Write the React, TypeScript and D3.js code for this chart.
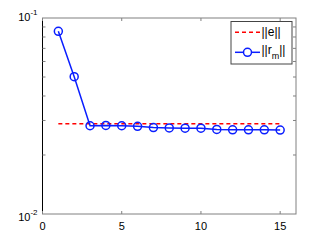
import { useMemo } from 'react'
import * as d3 from 'd3'

const WIDTH = 327
const HEIGHT = 242
const MARGIN = { top: 18, right: 31, bottom: 28, left: 42.5 }

const iterations = [1, 2, 3, 4, 5, 6, 7, 8, 9, 10, 11, 12, 13, 14, 15]
const rmNorm = [0.0855, 0.0502, 0.0282, 0.0283, 0.0282, 0.028, 0.0276, 0.0275, 0.0274, 0.0274, 0.027, 0.0269, 0.0269, 0.0269, 0.0268]
const eNorm = 0.0289
const xTicks = [0, 5, 10, 15]
const yMajor = [0.1, 0.01]
const yMinor = [2, 3, 4, 5, 6, 7, 8, 9].map(k => k * 0.01)

const FONT = 'Liberation Sans, Arial, sans-serif'
const BLUE = '#0a1eff'
const RED = '#ff0000'
const AXIS_GRAY = '#808080'

export default function App() {
  const innerWidth = WIDTH - MARGIN.left - MARGIN.right
  const innerHeight = HEIGHT - MARGIN.top - MARGIN.bottom

  const x = useMemo(() => d3.scaleLinear().domain([0, 16]).range([0, innerWidth]), [innerWidth])
  const y = useMemo(() => d3.scaleLog().domain([0.01, 0.1]).range([innerHeight, 0]), [innerHeight])

  const linePath = d3.line<number>()
    .x((_, i) => x(iterations[i]))
    .y(d => y(d))(rmNorm)

  const tickLen = 3

  return (
    <svg
      width={WIDTH}
      height={HEIGHT}
      style={{ position: 'absolute', left: 0, top: 0, background: '#fff' }}
      fontFamily={FONT}
    >
      <g transform={`translate(${MARGIN.left}, ${MARGIN.top})`}>
        {/* box */}
        <rect x={0} y={0} width={innerWidth} height={innerHeight} fill="none" stroke={AXIS_GRAY} strokeWidth={1} />
        <line x1={0} x2={0} y1={0} y2={innerHeight} stroke="#000" strokeWidth={1} />

        {/* x ticks */}
        {xTicks.map(t => (
          <g key={t}>
            <line x1={x(t)} x2={x(t)} y1={innerHeight} y2={innerHeight - tickLen} stroke={AXIS_GRAY} />
            <line x1={x(t)} x2={x(t)} y1={0} y2={tickLen} stroke={AXIS_GRAY} />
            <text x={x(t)} y={innerHeight + 16} textAnchor="middle" fontSize={11} fill="#000">{t}</text>
          </g>
        ))}

        {/* y minor ticks */}
        {yMinor.map(t => (
          <g key={t}>
            <line x1={0} x2={tickLen} y1={y(t)} y2={y(t)} stroke={AXIS_GRAY} />
            <line x1={innerWidth} x2={innerWidth - tickLen} y1={y(t)} y2={y(t)} stroke={AXIS_GRAY} />
          </g>
        ))}

        {/* y major labels */}
        {yMajor.map(t => (
          <text key={t} x={-5} y={y(t) + (t === 0.1 ? 3 : 7)} textAnchor="end" fontSize={11} fill="#000">
            10<tspan dy={-6} fontSize={8}>{Math.round(Math.log10(t))}</tspan>
          </text>
        ))}

        {/* ||e|| reference line */}
        <line
          x1={x(iterations[0])}
          x2={x(iterations[iterations.length - 1])}
          y1={y(eNorm)}
          y2={y(eNorm)}
          stroke={RED}
          strokeWidth={1.5}
          strokeDasharray="4,3"
        />

        {/* ||r_m|| */}
        <path d={linePath ?? ''} fill="none" stroke={BLUE} strokeWidth={1.5} />
        {rmNorm.map((v, i) => (
          <circle key={i} cx={x(iterations[i])} cy={y(v)} r={4} fill="none" stroke={BLUE} strokeWidth={1.5} />
        ))}

        {/* legend */}
        <g transform={`translate(${188.5}, ${3.5})`}>
          <rect x={0} y={0} width={61} height={42.5} fill="#fff" stroke="#444" strokeWidth={1} />
          <line x1={4} x2={29} y1={10.8} y2={10.8} stroke={RED} strokeWidth={1.5} strokeDasharray="4,3" />
          <text x={30.5} y={14} fontSize={12} fill="#000">||e||</text>
          <line x1={4} x2={29} y1={30.8} y2={30.8} stroke={BLUE} strokeWidth={1.5} />
          <circle cx={16.5} cy={30.8} r={4} fill="#fff" stroke={BLUE} strokeWidth={1.5} />
          <text x={30.5} y={32} fontSize={12} fill="#000">
            ||r<tspan dy={5} fontSize={9}>m</tspan><tspan dy={-5}>||</tspan>
          </text>
        </g>
      </g>
    </svg>
  )
}
